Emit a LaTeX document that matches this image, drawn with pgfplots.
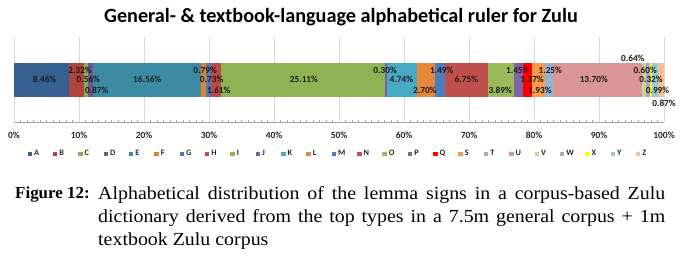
\documentclass[border=0pt]{standalone}
\usepackage{pgfplots}
\pgfplotsset{compat=1.18}
\usepackage{fontspec}
\setmainfont{Carlito}
\newfontfamily\capfont[FakeStretch=1.08]{Liberation Serif}
\newfontfamily\figfont{Liberation Serif}
\definecolor{cA}{HTML}{376092}
\definecolor{cB}{HTML}{B0443E}
\definecolor{cC}{HTML}{8EB04E}
\definecolor{cD}{HTML}{6F5597}
\definecolor{cE}{HTML}{3A8BA3}
\definecolor{cF}{HTML}{E3812F}
\definecolor{cG}{HTML}{4A7EBB}
\definecolor{cH}{HTML}{BE4B48}
\definecolor{cI}{HTML}{8FB253}
\definecolor{cJ}{HTML}{7A5EA0}
\definecolor{cK}{HTML}{46AAC5}
\definecolor{cL}{HTML}{E5883C}
\definecolor{cM}{HTML}{4C7DBF}
\definecolor{cN}{HTML}{C0504D}
\definecolor{cO}{HTML}{9BBB59}
\definecolor{cP}{HTML}{8064A2}
\definecolor{cQ}{HTML}{FF0000}
\definecolor{cS}{HTML}{F99A4A}
\definecolor{cT}{HTML}{95B3D7}
\definecolor{cU}{HTML}{D99694}
\definecolor{cV}{HTML}{C3D69B}
\definecolor{cW}{HTML}{B3A2C7}
\definecolor{cX}{HTML}{FFFF00}
\definecolor{cY}{HTML}{93CDDD}
\definecolor{cZ}{HTML}{FAC090}
\definecolor{gridgray}{HTML}{D9D9D9}
\definecolor{axgray}{HTML}{A6A6A6}
\pgfplotsset{sqlegend/.style={legend image code/.code={\fill[#1] (0bp,-2.2bp) rectangle (4.5bp,2.3bp);}}}
\begin{document}
\begin{tikzpicture}
\useasboundingbox (0bp,0bp) rectangle (683bp,-264bp);
\node[font=\fontsize{20.3}{23}\selectfont\bfseries] at (341bp,-17bp) {General- \& textbook-language alphabetical ruler for Zulu};
\begin{axis}[
  at={(14bp,-122bp)}, anchor=south west, scale only axis,
  width=650bp, height=85bp,
  xmin=0, xmax=100, ymin=0, ymax=2,
  xbar stacked, bar width=34bp,
  axis x line*=bottom, axis y line=none, ytick=\empty,
  xtick={0,10,...,100},
  xticklabels={0\%,10\%,20\%,30\%,40\%,50\%,60\%,70\%,80\%,90\%,100\%},
  minor x tick num=9,
  xmajorgrids, grid style={draw=gridgray, line width=0.7bp},
  x axis line style={draw=axgray, line width=0.7bp},
  tick style={draw=axgray, line width=0.5bp},
  major tick length=0pt, minor tick length=2.5bp, tick align=inside,
  xticklabel style={font=\fontsize{9.5}{11}\selectfont\bfseries, text=black!85, yshift=-6.5bp},
  legend columns=-1,
  sqlegend,
  legend style={draw=none, fill=none, inner sep=0pt,
    at={(0.0205,-0.3765)}, anchor=west,
    font=\fontsize{8.3}{9}\selectfont\bfseries, text=black!85,
    nodes={inner xsep=2bp, inner ysep=0pt, text width=16.85bp, align=left},
    /tikz/every even column/.append style={column sep=0pt},
    /tikz/every odd column/.append style={column sep=0pt}},
  every axis plot/.append style={draw=none},
]
\addplot[fill=cA] coordinates {(8.46,1)};
\addplot[fill=cB] coordinates {(2.32,1)};
\addplot[fill=cC] coordinates {(0.56,1)};
\addplot[fill=cD] coordinates {(0.87,1)};
\addplot[fill=cE] coordinates {(16.56,1)};
\addplot[fill=cF] coordinates {(0.79,1)};
\addplot[fill=cG] coordinates {(0.73,1)};
\addplot[fill=cH] coordinates {(1.61,1)};
\addplot[fill=cI] coordinates {(25.11,1)};
\addplot[fill=cJ] coordinates {(0.30,1)};
\addplot[fill=cK] coordinates {(4.74,1)};
\addplot[fill=cL] coordinates {(2.70,1)};
\addplot[fill=cM] coordinates {(1.49,1)};
\addplot[fill=cN] coordinates {(6.75,1)};
\addplot[fill=cO] coordinates {(3.89,1)};
\addplot[fill=cP] coordinates {(1.45,1)};
\addplot[fill=cQ] coordinates {(1.37,1)};
\addplot[fill=cS] coordinates {(1.93,1)};
\addplot[fill=cT] coordinates {(1.25,1)};
\addplot[fill=cU] coordinates {(13.70,1)};
\addplot[fill=cV] coordinates {(0.64,1)};
\addplot[fill=cW] coordinates {(0.60,1)};
\addplot[fill=cX] coordinates {(0.32,1)};
\addplot[fill=cY] coordinates {(0.99,1)};
\addplot[fill=cZ] coordinates {(0.87,1)};
\legend{A,B,C,D,E,F,G,H,I,J,K,L,M,N,O,P,Q,S,T,U,V,W,X,Y,Z}
\end{axis}
\begin{axis}[
  at={(14bp,-122bp)}, anchor=south west, scale only axis,
  width=650bp, height=85bp,
  xmin=0, xmax=100, ymin=0, ymax=2,
  hide axis, clip=false]
\addplot[draw=none, mark=none,
  nodes near coords={\pgfplotspointmeta\%},
  point meta=explicit symbolic,
  nodes near coords align={center},
  every node near coord/.append style={anchor=center, inner sep=0pt,
    font=\fontsize{9.3}{11}\selectfont\bfseries, text=black!90}]
table[x=x, y=y, meta=l] {
x y l
4.7 1 8.46
10.15 1.207 2.32
11.43 1 0.56
12.72 0.753 0.87
20.5 1 16.56
29.4 1.207 0.79
30.4 1 0.73
31.5 0.753 1.61
44.6 1 25.11
57.1 1.207 0.30
59.6 1 4.74
63.2 0.753 2.70
65.8 1.207 1.49
69.6 1 6.75
74.8 0.753 3.89
77.5 1.207 1.45
79.7 1 1.37
80.9 0.753 1.93
82.5 1.207 1.25
89.2 1 13.70
95.2 1.506 0.64
97.1 1.207 0.60
98.0 1 0.32
99.0 0.753 0.99
100.0 0.447 0.87
};
\end{axis}
\node[anchor=north west, inner sep=0pt, font=\figfont\fontsize{17}{23}\selectfont\bfseries] at (15bp,-186.5bp) {Figure 12:};
\node[anchor=north west, inner sep=0pt, text width=567bp, align=justify, font=\capfont\fontsize{18.5}{23}\selectfont] at (98bp,-186bp) {Alphabetical distribution of the lemma signs in a corpus-based Zulu\linebreak dictionary derived from the top types in a 7.5m general corpus + 1m\linebreak textbook Zulu corpus};
\end{tikzpicture}
\end{document}
